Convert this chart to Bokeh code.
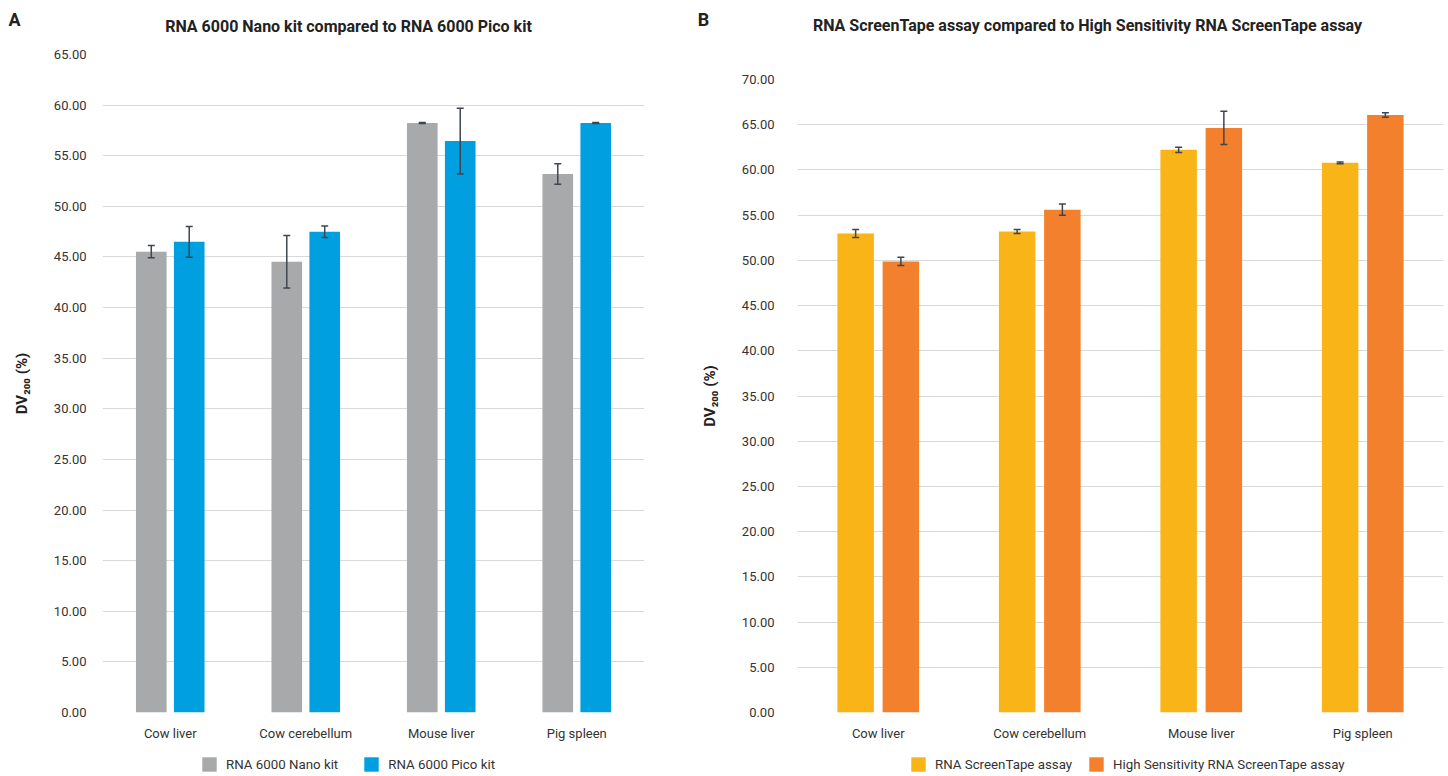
from bokeh.plotting import figure
from bokeh.layouts import row, column
from bokeh.models import (ColumnDataSource, FactorRange, Range1d, Whisker, TeeHead,
                          FixedTicker, NumeralTickFormatter, Label, Legend, LegendItem)
from bokeh.transform import dodge
from bokeh.embed import file_html
from bokeh.resources import INLINE

# ---------------- data ----------------
categories = ["Cow liver", "Cow cerebellum", "Mouse liver", "Pig spleen"]

nano = [45.52, 44.53, 58.23, 53.20]
nano_err = [0.60, 2.60, 0.05, 1.02]
pico = [46.50, 47.49, 56.45, 58.23]
pico_err = [1.52, 0.57, 3.25, 0.05]

rst = [52.97, 53.19, 62.22, 60.79]
rst_err = [0.45, 0.22, 0.30, 0.10]
hs = [49.88, 55.61, 64.64, 66.07]
hs_err = [0.45, 0.62, 1.84, 0.24]

title_a = "RNA 6000 Nano kit compared to RNA 6000 Pico kit"
title_b = "RNA ScreenTape assay compared to High Sensitivity RNA ScreenTape assay"
series_a = ["RNA 6000 Nano kit", "RNA 6000 Pico kit"]
series_b = ["RNA ScreenTape assay", "High Sensitivity RNA ScreenTape assay"]
y_label = "DV\u2082\u2080\u2080 (%)"

colors_a = ["#a7a9aa", "#00a0e0"]
colors_b = ["#f9b418", "#f2802c"]

FONT = "Roboto"
TXT = "#333333"
GRID = "#d9d9d9"
ERR = "#3f4650"

HEADER_H = 40
FOOTER_H = 23
FRAME_BOTTOM = 712          # canvas y of the zero line
PANEL_TOP = HEADER_H
PANEL_H = 752 - HEADER_H


def make_panel(v1, e1, v2, e2, cols, ymax, width, mb_left, mb_right,
               frame_top, tick_standoff, label_standoff):
    src = ColumnDataSource(dict(
        cat=categories, v1=v1, v2=v2,
        u1=[a + b for a, b in zip(v1, e1)], l1=[a - b for a, b in zip(v1, e1)],
        u2=[a + b for a, b in zip(v2, e2)], l2=[a - b for a, b in zip(v2, e2)],
    ))
    p = figure(x_range=FactorRange(*categories, range_padding=0), y_range=Range1d(0, ymax),
               width=width, height=PANEL_H, output_backend="svg", toolbar_location=None,
               min_border_left=mb_left, min_border_right=mb_right,
               min_border_top=frame_top - PANEL_TOP,
               min_border_bottom=PANEL_TOP + PANEL_H - FRAME_BOTTOM, frame_align=False)
    p.outline_line_color = None
    p.background_fill_color = "white"
    p.border_fill_color = "white"

    off = 0.14
    bw = 0.226
    p.vbar(x=dodge("cat", -off, range=p.x_range), top="v1", width=bw, source=src,
           fill_color=cols[0], line_color=None)
    p.vbar(x=dodge("cat", off, range=p.x_range), top="v2", width=bw, source=src,
           fill_color=cols[1], line_color=None)

    for d, u, l in ((-off, "u1", "l1"), (off, "u2", "l2")):
        w = Whisker(source=src, base=dodge("cat", d, range=p.x_range), upper=u, lower=l,
                    line_color=ERR, line_width=1.5, level="annotation",
                    upper_head=TeeHead(size=7, line_color=ERR, line_width=1.5),
                    lower_head=TeeHead(size=7, line_color=ERR, line_width=1.5))
        p.add_layout(w)

    p.xgrid.grid_line_color = None
    p.ygrid.grid_line_color = GRID
    p.ygrid.grid_line_width = 1
    p.yaxis.ticker = FixedTicker(ticks=list(range(0, ymax + 1, 5)))
    p.yaxis.formatter = NumeralTickFormatter(format="0.00")
    for ax in (p.xaxis, p.yaxis):
        ax.axis_line_color = None
        ax.major_tick_line_color = None
        ax.minor_tick_line_color = None
        ax.major_tick_out = 0
        ax.major_tick_in = 0
        ax.major_label_text_font = FONT
        ax.major_label_text_font_size = "13px"
        ax.major_label_text_color = TXT
    p.yaxis.major_label_standoff = tick_standoff
    p.xaxis.major_label_standoff = 13
    p.yaxis.axis_label = y_label
    p.yaxis.axis_label_text_font = FONT
    p.yaxis.axis_label_text_font_size = "15px"
    p.yaxis.axis_label_text_font_style = "bold"
    p.yaxis.axis_label_text_color = "#222222"
    p.yaxis.axis_label_standoff = label_standoff
    return p


pa = make_panel(nano, nano_err, pico, pico_err, colors_a, 65, 696, 102, 52, 54, 16, 20)
pb = make_panel(rst, rst_err, hs, hs_err, colors_b, 70, 750, 101, 3, 79, 23, 20)

# header strip: panel letters and titles
hdr = figure(width=1446, height=HEADER_H, x_range=Range1d(0, 1446), y_range=Range1d(HEADER_H, 0),
             x_axis_type=None, y_axis_type=None, output_backend="svg", toolbar_location=None,
             min_border=0, frame_align=False)
hdr.outline_line_color = None
hdr.grid.visible = False
for txt, x, y, size in (("A", 14, 19, "18px"), (title_a, 348, 26, "16px"),
                        ("B", 703, 19, "18px"), (title_b, 1087, 25, "16px")):
    hdr.add_layout(Label(x=x, y=y, text=txt, text_font=FONT, text_font_size=size,
                         text_font_style="bold", text_color="#222222",
                         text_align="center", text_baseline="middle"))

# footer strip: legends (swatches take the series colours; their glyphs lie outside the view)
ftr = figure(width=1446, height=FOOTER_H, x_range=Range1d(0, 1), y_range=Range1d(0, 1),
             x_axis_type=None, y_axis_type=None, output_backend="svg", toolbar_location=None,
             min_border=0, frame_align=False)
ftr.outline_line_color = None
ftr.grid.visible = False
for names, cols, lx, sp in ((series_a, colors_a, 200, 24), (series_b, colors_b, 909, 15)):
    rs = [ftr.vbar(x=[-1.0], top=[0.0], width=0.1, fill_color=c, line_color=None) for c in cols]
    leg = Legend(items=[LegendItem(label=n, renderers=[r]) for n, r in zip(names, rs)],
                 orientation="horizontal", location=(lx, 2),
                 glyph_width=18, glyph_height=18, label_height=18, label_standoff=8,
                 spacing=sp, padding=0, margin=0,
                 border_line_color=None, background_fill_alpha=0,
                 label_text_font=FONT, label_text_font_size="13.3px", label_text_color=TXT)
    ftr.add_layout(leg, "center")

layout = column(hdr, row(pa, pb), ftr)
open("out.html", "w").write(file_html(layout, INLINE))
